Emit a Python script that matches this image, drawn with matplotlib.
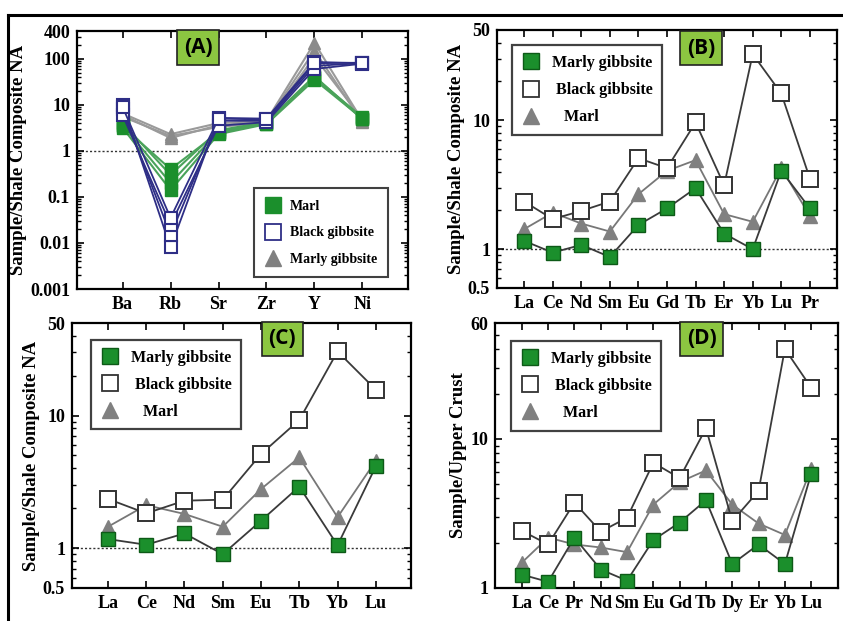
import numpy as np
import matplotlib
matplotlib.use("Agg")
import matplotlib.pyplot as plt
from matplotlib.lines import Line2D
from matplotlib.ticker import FixedLocator, NullFormatter, LogLocator, FixedFormatter

plt.rcParams['font.family'] = ['Liberation Serif', 'DejaVu Serif']
plt.rcParams['font.weight'] = 'bold'

# ---------------- Panel A data (several samples per group) ----------------
a_elements = ["Ba", "Rb", "Sr", "Zr", "Y", "Ni"]
a_marl = [
    [3.2, 0.14, 2.3, 3.8, 35, 5.0],
    [3.6, 0.20, 2.6, 4.0, 38, 5.2],
    [4.0, 0.30, 2.8, 4.2, 42, 4.8],
    [3.4, 0.40, 2.5, 3.9, 40, 5.3],
]
a_black = [
    [10.0, 0.008, 5.2, 5.0, 85, 80],
    [8.0, 0.015, 4.5, 4.5, 70, 80],
    [6.0, 0.025, 3.5, 4.2, 60, 78],
    [9.0, 0.035, 5.0, 4.8, 80, 82],
]
a_marly = [
    [6.5, 2.3, 4.0, 4.5, 220, 4.5],
    [6.0, 1.9, 3.6, 4.3, 150, 4.2],
    [5.5, 2.1, 3.3, 4.1, 110, 4.8],
]
a_yticks = [0.001, 0.01, 0.1, 1, 10, 100, 400]
a_yticklabels = ["0.001", "0.01", "0.1", "1", "10", "100", "400"]

# ---------------- Panel B data ----------------
b_elements = ["La", "Ce", "Nd", "Sm", "Eu", "Gd", "Tb", "Er", "Yb", "Lu", "Pr"]
b_marly = [1.16, 0.94, 1.08, 0.87, 1.54, 2.07, 2.97, 1.32, 1.0, 4.05, 2.07]
b_black = [2.34, 1.71, 1.98, 2.34, 5.07, 4.25, 9.6, 3.13, 32.5, 16.1, 3.53]
b_marl = [1.43, 1.92, 1.58, 1.37, 2.67, 4.05, 4.9, 1.87, 1.63, 4.25, 1.81]
b_yticks = [0.5, 1, 10, 50]
b_yticklabels = ["0.5", "1", "10", "50"]

# ---------------- Panel C data ----------------
c_elements = ["La", "Ce", "Nd", "Sm", "Eu", "Tb", "Yb", "Lu"]
c_marly = [1.17, 1.06, 1.29, 0.90, 1.61, 2.91, 1.05, 4.14]
c_black = [2.35, 1.83, 2.28, 2.32, 5.13, 9.27, 30.5, 15.7]
c_marl = [1.45, 2.11, 1.81, 1.45, 2.79, 4.84, 1.71, 4.57]
c_yticks = [0.5, 1, 10, 50]
c_yticklabels = ["0.5", "1", "10", "50"]

# ---------------- Panel D data ----------------
d_elements = ["La", "Ce", "Pr", "Nd", "Sm", "Eu", "Gd", "Tb", "Dy", "Er", "Yb", "Lu"]
d_marly = [1.23, 1.10, 2.18, 1.33, 1.12, 2.10, 2.75, 3.88, 1.45, 1.96, 1.45, 5.84]
d_black = [2.42, 1.96, 3.74, 2.39, 2.96, 6.92, 5.47, 11.8, 2.81, 4.48, 40.2, 22.1]
d_marl = [1.48, 2.18, 1.96, 1.87, 1.74, 3.63, 5.14, 6.15, 3.63, 2.71, 2.27, 6.31]
d_yticks = [1, 10, 60]
d_yticklabels = ["1", "10", "60"]

W, H = 843, 621
fig = plt.figure(figsize=(W / 100, H / 100), dpi=100)
fig.patch.set_facecolor("white")

def px_axes(l, t, r, b):
    return fig.add_axes([l / W, 1 - b / H, (r - l) / W, (b - t) / H])

GREEN = "#1b8f2c"
GREEN_EDGE = "#0d5a17"
NAVY = "#2e2e86"
LINE_DARK = "#3a3a3a"

def style_axes(ax, n, xlim, ylim, yticks, ylabels, ylabel, labelsize=13):
    ax.set_yscale("log")
    ax.set_xlim(*xlim)
    ax.set_ylim(*ylim)
    ax.set_xticks(np.arange(1, n + 1))
    ax.yaxis.set_major_locator(FixedLocator(yticks))
    ax.yaxis.set_major_formatter(FixedFormatter(ylabels))
    ax.yaxis.set_minor_locator(LogLocator(base=10, subs=np.arange(2, 10)))
    ax.yaxis.set_minor_formatter(NullFormatter())
    ax.tick_params(axis="both", which="major", direction="in", top=True, right=True,
                   length=5, width=1.2, labelsize=labelsize, pad=5)
    ax.tick_params(axis="y", which="minor", direction="in", right=True, left=True,
                   length=3, width=1.0)
    for lab in ax.get_xticklabels() + ax.get_yticklabels():
        lab.set_fontweight("bold")
    for s in ax.spines.values():
        s.set_linewidth(1.6)
    ax.axhline(1, color="#333333", lw=1.0, ls=(0, (1.5, 1.5)), zorder=1)
    ax.set_ylabel(ylabel, fontsize=13.5, fontweight="bold", labelpad=2)

def panel_label(ax, txt, x, y):
    ax.text(x, y, txt, transform=ax.transAxes, ha="center", va="center",
            fontsize=15, fontweight="bold", family=["Open Sans", "DejaVu Sans"],
            bbox=dict(boxstyle="square,pad=0.32", fc="#8cc641", ec="#222222", lw=1.2),
            zorder=6)

# ---------------- Panel A ----------------
axA = px_axes(77, 31, 408, 289)
xa = np.arange(1, len(a_elements) + 1)
for s in a_marly:
    axA.plot(xa, s, color="#9a9a9a", lw=1.5, marker="^", ms=8, mfc="#8a8a8a",
             mec="#8a8a8a", zorder=3)
for s in a_marl:
    axA.plot(xa, s, color="#4aa35a", lw=1.5, marker="s", ms=8, mfc=GREEN,
             mec=GREEN, zorder=4)
for s in a_black:
    axA.plot(xa, s, color=NAVY, lw=1.3, marker="s", ms=8, mfc="white",
             mec=NAVY, mew=1.5, zorder=5)
style_axes(axA, len(a_elements), (0.05, 6.95), (0.001, 400), a_yticks,
           a_yticklabels, "Sample/Shale Composite NA")
axA.set_xticklabels(a_elements)
hA = [Line2D([], [], ls="none", marker="s", ms=11, mfc=GREEN, mec=GREEN),
      Line2D([], [], ls="none", marker="s", ms=11, mfc="white", mec=NAVY, mew=1.3),
      Line2D([], [], ls="none", marker="^", ms=11, mfc="#808080", mec="#808080")]
legA = axA.legend(hA, ["Marl", "Black gibbsite", "Marly gibbsite"], loc="lower right",
                  bbox_to_anchor=(0.94, 0.045), borderaxespad=0, frameon=True,
                  fancybox=False, edgecolor="#111111", prop=dict(size=10, weight="bold"),
                  labelspacing=1.0, handlelength=1.2, handletextpad=0.6, borderpad=0.8)
legA.get_frame().set_linewidth(1.5)
panel_label(axA, "(A)", 0.367, 0.936)

# ---------------- Panels B, C, D ----------------
def ree_panel(ax, elements, marly, black, marl, xlim, ylim, yticks, ylabels, ylabel,
              label, lx, ly, legpos):
    x = np.arange(1, len(elements) + 1)
    ax.plot(x, marl, color="#777777", lw=1.3, marker="^", ms=10, mfc="#808080",
            mec="#808080", zorder=3)
    ax.plot(x, marly, color=LINE_DARK, lw=1.3, marker="s", ms=10, mfc=GREEN,
            mec=GREEN_EDGE, zorder=4)
    ax.plot(x, black, color=LINE_DARK, lw=1.3, marker="s", ms=11, mfc="white",
            mec="#333333", mew=1.4, zorder=5)
    style_axes(ax, len(elements), xlim, ylim, yticks, ylabels, ylabel)
    ax.set_xticklabels(elements)
    h = [Line2D([], [], ls="none", marker="s", ms=12, mfc=GREEN, mec=GREEN_EDGE),
         Line2D([], [], ls="none", marker="s", ms=12, mfc="white", mec="#333333", mew=1.3),
         Line2D([], [], ls="none", marker="^", ms=12, mfc="#808080", mec="#808080")]
    leg = ax.legend(h, ["Marly gibbsite", " Black gibbsite", "   Marl"], loc="upper left",
                    bbox_to_anchor=legpos, borderaxespad=0, frameon=True, fancybox=False,
                    edgecolor="#111111", prop=dict(size=11.5, weight="bold"),
                    labelspacing=0.7, handlelength=1.2, handletextpad=0.7, borderpad=0.6)
    leg.get_frame().set_linewidth(1.6)
    panel_label(ax, label, lx, ly)

axB = px_axes(497, 30, 837, 288)
ree_panel(axB, b_elements, b_marly, b_black, b_marl, (0.05, 11.95), (0.5, 50),
          b_yticks, b_yticklabels, "Sample/Shale Composite NA", "(B)", 0.60, 0.93,
          (0.044, 0.94))

axC = px_axes(72, 323, 411, 588)
ree_panel(axC, c_elements, c_marly, c_black, c_marl, (0.06, 8.92), (0.5, 50),
          c_yticks, c_yticklabels, "Sample/Shale Composite NA", "(C)", 0.62, 0.94,
          (0.056, 0.936))

axD = px_axes(495, 323, 838, 588)
ree_panel(axD, d_elements, d_marly, d_black, d_marl, (-0.02, 13.02), (1, 60),
          d_yticks, d_yticklabels, "Sample/Upper Crust", "(D)", 0.603, 0.94,
          (0.047, 0.932))

# outer frame (top and left edges)
fig.add_artist(Line2D([8 / W, 1.0], [1 - 15 / H, 1 - 15 / H], color="black", lw=2.2,
                      transform=fig.transFigure))
fig.add_artist(Line2D([8 / W, 8 / W], [1 - 15 / H, 0.0], color="black", lw=2.2,
                      transform=fig.transFigure))

fig.savefig("out.png", dpi=100)
